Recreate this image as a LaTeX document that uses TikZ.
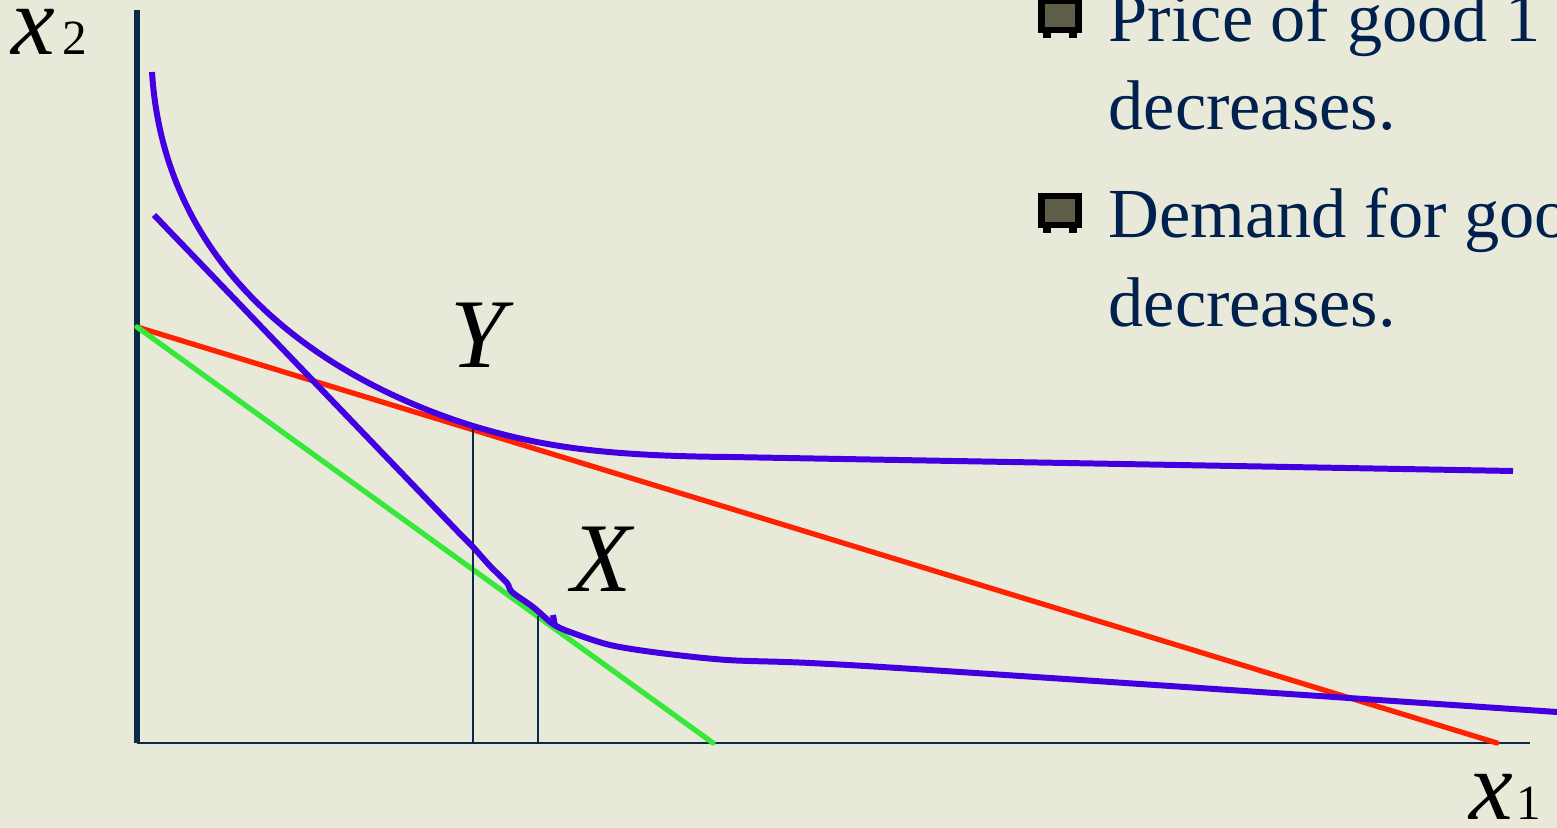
\documentclass[tikz,border=0pt]{standalone}
\usepackage{fontspec}
\setmainfont{Liberation Serif}[UprightFont=*, ItalicFont=* Italic, BoldFont=* Bold]
\usetikzlibrary{positioning}
\definecolor{mBg}{HTML}{E9E9D9}
\definecolor{mNavy}{HTML}{0B2A4A}
\definecolor{mText}{HTML}{00204E}
\definecolor{mBlue}{HTML}{4200E0}
\definecolor{mRed}{HTML}{FF2200}
\definecolor{mGreen}{HTML}{36E83A}
\definecolor{mOlive}{HTML}{5E5E48}

\begin{document}
\begin{tikzpicture}[
  x=0.01cm, y=-0.01cm,
  ptlbl/.style={font=\fontsize{28}{30}\selectfont\itshape, inner sep=0pt, anchor=base west},
  axlbl/.style={font=\fontsize{28}{30}\selectfont, inner sep=0pt, anchor=base west},
  bul/.style={font=\fontsize{20}{24}\selectfont, text=mText, inner sep=0pt, anchor=base west},
  icurve/.style={mBlue, line width=1.7pt},
  budget/.style={line width=1.5pt, line cap=round},
  drop/.style={mNavy, line width=0.45pt},
]
  \useasboundingbox (0,0) rectangle (1557,828);
  \clip (0,0) rectangle (1557,828);
  \fill[mBg] (0,0) rectangle (1557,828);

  % Axes
  \coordinate (O) at (137,743);
  \coordinate (top) at (137,10);
  \coordinate (right) at (1530,743);
  \draw[mNavy, line width=1.5pt] (top) -- (O);
  \draw[mNavy, line width=0.6pt] (O) -- (right);
  \node[axlbl] (lx2) at (11,55) {\textit{x}\kern2pt{\fontsize{14}{14}\selectfont 2}};
  \node[axlbl] (lx1) at (1469,820) {\textit{x}\kern1pt{\fontsize{14}{14}\selectfont 1}};

  % Budget lines
  \coordinate (I) at (137,327);
  \coordinate (R) at (1497,743);
  \coordinate (G) at (713,743);
  \draw[budget, mRed] (I) -- (R);
  \draw[budget, mGreen] (I) -- (G);

  % Tangency points
  \coordinate (Y) at (473,426);
  \coordinate (X) at (538,616);
  \draw[drop] (Y) -- (Y |- O);
  \draw[drop] (X) -- (X |- O);
  \node[ptlbl] (lY) at (450,368) {Y};
  \node[ptlbl] (lX) at (571,592) {X};

  % Indifference curves
  \coordinate (u0) at (152,72);
  \coordinate (u1) at (730,457);
  \coordinate (u2) at (1513,471);
  \draw[icurve] (u0) .. controls (165,280) and (335,383) .. (Y)
    .. controls (540,446) and (600,456) .. (u1) -- (u2);
  \draw[icurve] (154,215) -- plot[smooth, tension=0.5] coordinates {
    (463,537) (473,547) (490,566) (507,583) (512,592) (533,607)
    (553,624) (570,632) (610,645) (660,653) (727,660) (810,663)
    (960,672) (1557,712)};
  \draw[icurve] (553,615) -- (555,626);

  % Bullet points
  \foreach \by in {-2,193} {
    \begin{scope}[shift={(1038,\by)}]
      \fill[black] (0,0) rectangle (44,35);
      \fill[black] (5,35) rectangle (13,40);
      \fill[black] (31,35) rectangle (39,40);
      \fill[mOlive] (7,6) rectangle (37,29);
    \end{scope}
  }
  \node[bul] (p1) at (1108,42) {Price of good 1};
  \node[bul] (p1b) at (1108,130) {decreases.};
  \node[bul] (p2) at (1108,238) {Demand for good 1};
  \node[bul] (p2b) at (1108,327) {decreases.};
\end{tikzpicture}
\end{document}
